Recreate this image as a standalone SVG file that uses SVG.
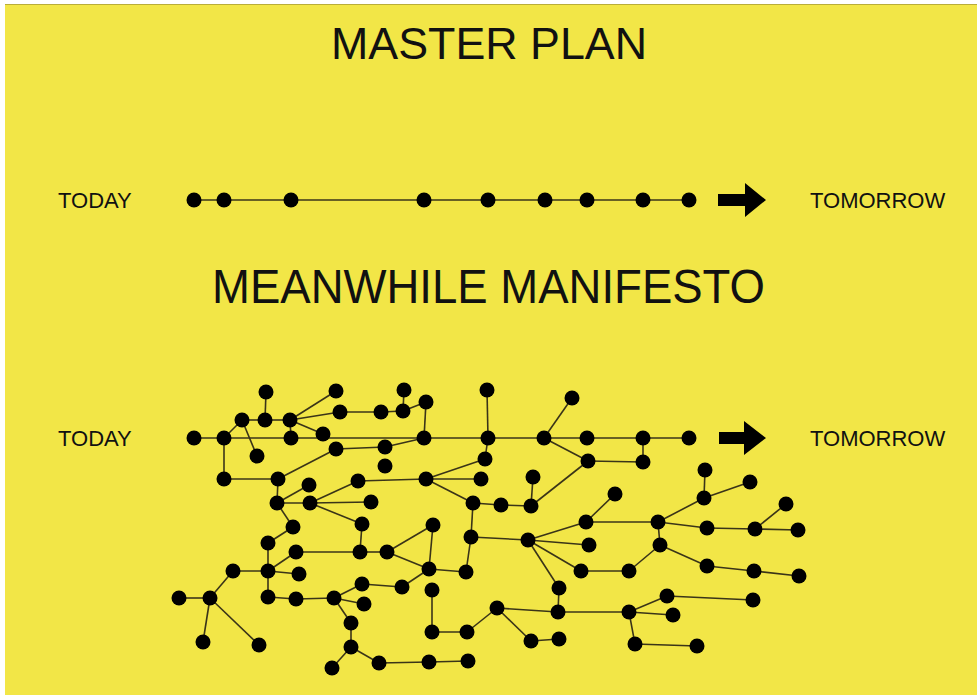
<svg xmlns="http://www.w3.org/2000/svg" width="977" height="695" viewBox="0 0 977 695">
<style>
.bg{fill:#F2E647}
.t{font-family:"Liberation Sans",Arial,sans-serif;fill:#111}
.lbl{font-size:22px}
.title{font-size:44px}
.e{stroke:#3a3418;stroke-width:1.6;fill:none}
.n circle{fill:#000}
.arr{fill:#000}
</style>
<defs>
<circle id="d" r="7.5"/>
</defs>
<rect x="0" y="0" width="977" height="695" fill="#ffffff"/>
<rect class="bg" x="5" y="4" width="972" height="691"/>
<line x1="5" y1="4.5" x2="977" y2="4.5" stroke="#b9ad3a" stroke-width="1"/>

<text class="t title" x="489" y="59" text-anchor="middle" textLength="316" lengthAdjust="spacingAndGlyphs">MASTER PLAN</text>
<text class="t title" x="488.5" y="303" text-anchor="middle" font-size="48" style="font-size:48px" textLength="553" lengthAdjust="spacingAndGlyphs">MEANWHILE MANIFESTO</text>

<text class="t lbl" x="58" y="208">TODAY</text>
<text class="t lbl" x="810" y="208">TOMORROW</text>
<text class="t lbl" x="58" y="446">TODAY</text>
<text class="t lbl" x="810" y="446">TOMORROW</text>

<g id="arrow-top"><polygon class="arr" points="718,194 745,194 745,183 766,200 745,217 745,206 718,206"/></g>
<g id="arrow-bottom"><polygon class="arr" points="719,432 744,432 744,421 766,438 744,455 744,444 719,444"/></g>

<g id="connectors">
<line class="e" x1="194" y1="200" x2="689" y2="200"/>
<line class="e" x1="194" y1="438" x2="689" y2="438"/>
<line class="e" x1="266" y1="392" x2="265" y2="420"/>
<line class="e" x1="242" y1="420" x2="265" y2="420"/>
<line class="e" x1="265" y1="420" x2="290" y2="420"/>
<line class="e" x1="290" y1="420" x2="336" y2="391"/>
<line class="e" x1="290" y1="420" x2="340" y2="412"/>
<line class="e" x1="340" y1="412" x2="381" y2="412"/>
<line class="e" x1="381" y1="412" x2="403" y2="411"/>
<line class="e" x1="403" y1="411" x2="404" y2="390"/>
<line class="e" x1="403" y1="411" x2="426" y2="402"/>
<line class="e" x1="426" y1="402" x2="424" y2="438"/>
<line class="e" x1="290" y1="420" x2="291" y2="438"/>
<line class="e" x1="290" y1="420" x2="323" y2="434"/>
<line class="e" x1="224" y1="438" x2="242" y2="420"/>
<line class="e" x1="242" y1="420" x2="257" y2="456"/>
<line class="e" x1="224" y1="438" x2="224" y2="479"/>
<line class="e" x1="224" y1="479" x2="278" y2="479"/>
<line class="e" x1="278" y1="479" x2="336" y2="449"/>
<line class="e" x1="336" y1="449" x2="385" y2="447"/>
<line class="e" x1="385" y1="447" x2="424" y2="438"/>
<line class="e" x1="278" y1="479" x2="277" y2="503"/>
<line class="e" x1="277" y1="503" x2="309" y2="485"/>
<line class="e" x1="277" y1="503" x2="310" y2="503"/>
<line class="e" x1="310" y1="503" x2="358" y2="481"/>
<line class="e" x1="358" y1="481" x2="426" y2="479"/>
<line class="e" x1="310" y1="503" x2="371" y2="502"/>
<line class="e" x1="310" y1="503" x2="362" y2="524"/>
<line class="e" x1="277" y1="503" x2="293" y2="527"/>
<line class="e" x1="293" y1="527" x2="268" y2="543"/>
<line class="e" x1="362" y1="524" x2="360" y2="552"/>
<line class="e" x1="487" y1="390" x2="488" y2="438"/>
<line class="e" x1="572" y1="398" x2="544" y2="438"/>
<line class="e" x1="488" y1="438" x2="485" y2="459"/>
<line class="e" x1="426" y1="479" x2="485" y2="459"/>
<line class="e" x1="426" y1="479" x2="481" y2="479"/>
<line class="e" x1="426" y1="479" x2="473" y2="503"/>
<line class="e" x1="473" y1="503" x2="501" y2="505"/>
<line class="e" x1="501" y1="505" x2="531" y2="506"/>
<line class="e" x1="531" y1="506" x2="533" y2="477"/>
<line class="e" x1="531" y1="506" x2="588" y2="461"/>
<line class="e" x1="544" y1="438" x2="588" y2="461"/>
<line class="e" x1="588" y1="461" x2="643" y2="462"/>
<line class="e" x1="643" y1="438" x2="643" y2="462"/>
<line class="e" x1="705" y1="470" x2="704" y2="498"/>
<line class="e" x1="704" y1="498" x2="750" y2="482"/>
<line class="e" x1="704" y1="498" x2="658" y2="522"/>
<line class="e" x1="615" y1="494" x2="586" y2="522"/>
<line class="e" x1="586" y1="522" x2="658" y2="522"/>
<line class="e" x1="658" y1="522" x2="707" y2="528"/>
<line class="e" x1="707" y1="528" x2="755" y2="529"/>
<line class="e" x1="755" y1="529" x2="798" y2="530"/>
<line class="e" x1="755" y1="529" x2="786" y2="504"/>
<line class="e" x1="658" y1="522" x2="660" y2="545"/>
<line class="e" x1="660" y1="545" x2="629" y2="571"/>
<line class="e" x1="660" y1="545" x2="707" y2="566"/>
<line class="e" x1="707" y1="566" x2="754" y2="571"/>
<line class="e" x1="754" y1="571" x2="799" y2="576"/>
<line class="e" x1="581" y1="571" x2="629" y2="571"/>
<line class="e" x1="558" y1="612" x2="629" y2="612"/>
<line class="e" x1="629" y1="612" x2="667" y2="596"/>
<line class="e" x1="667" y1="596" x2="753" y2="600"/>
<line class="e" x1="629" y1="612" x2="673" y2="615"/>
<line class="e" x1="629" y1="612" x2="635" y2="644"/>
<line class="e" x1="635" y1="644" x2="697" y2="646"/>
<line class="e" x1="473" y1="503" x2="471" y2="537"/>
<line class="e" x1="471" y1="537" x2="528" y2="540"/>
<line class="e" x1="528" y1="540" x2="586" y2="522"/>
<line class="e" x1="528" y1="540" x2="589" y2="545"/>
<line class="e" x1="528" y1="540" x2="581" y2="571"/>
<line class="e" x1="528" y1="540" x2="559" y2="588"/>
<line class="e" x1="559" y1="588" x2="558" y2="612"/>
<line class="e" x1="497" y1="608" x2="558" y2="612"/>
<line class="e" x1="497" y1="608" x2="467" y2="632"/>
<line class="e" x1="467" y1="632" x2="432" y2="632"/>
<line class="e" x1="432" y1="632" x2="432" y2="590"/>
<line class="e" x1="497" y1="608" x2="531" y2="641"/>
<line class="e" x1="531" y1="641" x2="559" y2="639"/>
<line class="e" x1="471" y1="537" x2="466" y2="572"/>
<line class="e" x1="466" y1="572" x2="429" y2="569"/>
<line class="e" x1="429" y1="569" x2="433" y2="525"/>
<line class="e" x1="433" y1="525" x2="387" y2="552"/>
<line class="e" x1="387" y1="552" x2="429" y2="569"/>
<line class="e" x1="360" y1="552" x2="387" y2="552"/>
<line class="e" x1="296" y1="552" x2="360" y2="552"/>
<line class="e" x1="429" y1="569" x2="402" y2="587"/>
<line class="e" x1="402" y1="587" x2="362" y2="584"/>
<line class="e" x1="362" y1="584" x2="334" y2="598"/>
<line class="e" x1="334" y1="598" x2="364" y2="604"/>
<line class="e" x1="334" y1="598" x2="351" y2="623"/>
<line class="e" x1="351" y1="623" x2="351" y2="647"/>
<line class="e" x1="351" y1="647" x2="332" y2="668"/>
<line class="e" x1="351" y1="647" x2="379" y2="663"/>
<line class="e" x1="379" y1="663" x2="429" y2="662"/>
<line class="e" x1="429" y1="662" x2="468" y2="661"/>
<line class="e" x1="296" y1="599" x2="334" y2="598"/>
<line class="e" x1="268" y1="597" x2="296" y2="599"/>
<line class="e" x1="268" y1="571" x2="268" y2="597"/>
<line class="e" x1="268" y1="543" x2="268" y2="571"/>
<line class="e" x1="268" y1="571" x2="296" y2="552"/>
<line class="e" x1="268" y1="571" x2="299" y2="574"/>
<line class="e" x1="233" y1="571" x2="268" y2="571"/>
<line class="e" x1="233" y1="571" x2="210" y2="598"/>
<line class="e" x1="179" y1="598" x2="210" y2="598"/>
<line class="e" x1="210" y1="598" x2="203" y2="642"/>
<line class="e" x1="210" y1="598" x2="259" y2="645"/>
</g>

<g id="master-plan" class="n">
<g id="m1"><use href="#d" x="194" y="200"/></g>
<g id="m2"><use href="#d" x="224" y="200"/></g>
<g id="m3"><use href="#d" x="291" y="200"/></g>
<g id="m4"><use href="#d" x="424" y="200"/></g>
<g id="m5"><use href="#d" x="488" y="200"/></g>
<g id="m6"><use href="#d" x="545" y="200"/></g>
<g id="m7"><use href="#d" x="587" y="200"/></g>
<g id="m8"><use href="#d" x="643" y="200"/></g>
<g id="m9"><use href="#d" x="689" y="200"/></g>
</g>

<g id="meanwhile" class="n">
<g id="n1"><use href="#d" x="194" y="438"/></g>
<g id="n2"><use href="#d" x="224" y="438"/></g>
<g id="n3"><use href="#d" x="291" y="438"/></g>
<g id="n4"><use href="#d" x="424" y="438"/></g>
<g id="n5"><use href="#d" x="488" y="438"/></g>
<g id="n6"><use href="#d" x="544" y="438"/></g>
<g id="n7"><use href="#d" x="587" y="438"/></g>
<g id="n8"><use href="#d" x="643" y="438"/></g>
<g id="n9"><use href="#d" x="689" y="438"/></g>
<g id="n10"><use href="#d" x="266" y="392"/></g>
<g id="n11"><use href="#d" x="242" y="420"/></g>
<g id="n12"><use href="#d" x="265" y="420"/></g>
<g id="n13"><use href="#d" x="290" y="420"/></g>
<g id="n14"><use href="#d" x="336" y="391"/></g>
<g id="n15"><use href="#d" x="340" y="412"/></g>
<g id="n16"><use href="#d" x="381" y="412"/></g>
<g id="n17"><use href="#d" x="323" y="434"/></g>
<g id="n18"><use href="#d" x="257" y="456"/></g>
<g id="n19"><use href="#d" x="336" y="449"/></g>
<g id="n20"><use href="#d" x="385" y="447"/></g>
<g id="n21"><use href="#d" x="385" y="466"/></g>
<g id="n22"><use href="#d" x="224" y="479"/></g>
<g id="n23"><use href="#d" x="278" y="479"/></g>
<g id="n24"><use href="#d" x="309" y="485"/></g>
<g id="n25"><use href="#d" x="358" y="481"/></g>
<g id="n26"><use href="#d" x="277" y="503"/></g>
<g id="n27"><use href="#d" x="310" y="503"/></g>
<g id="n28"><use href="#d" x="371" y="502"/></g>
<g id="n29"><use href="#d" x="362" y="524"/></g>
<g id="n30"><use href="#d" x="293" y="527"/></g>
<g id="n31"><use href="#d" x="404" y="390"/></g>
<g id="n32"><use href="#d" x="403" y="411"/></g>
<g id="n33"><use href="#d" x="426" y="402"/></g>
<g id="n34"><use href="#d" x="487" y="390"/></g>
<g id="n35"><use href="#d" x="572" y="398"/></g>
<g id="n36"><use href="#d" x="485" y="459"/></g>
<g id="n37"><use href="#d" x="588" y="461"/></g>
<g id="n38"><use href="#d" x="643" y="462"/></g>
<g id="n39"><use href="#d" x="426" y="479"/></g>
<g id="n40"><use href="#d" x="481" y="479"/></g>
<g id="n41"><use href="#d" x="533" y="477"/></g>
<g id="n42"><use href="#d" x="473" y="503"/></g>
<g id="n43"><use href="#d" x="501" y="505"/></g>
<g id="n44"><use href="#d" x="531" y="506"/></g>
<g id="n45"><use href="#d" x="705" y="470"/></g>
<g id="n46"><use href="#d" x="750" y="482"/></g>
<g id="n47"><use href="#d" x="615" y="494"/></g>
<g id="n48"><use href="#d" x="704" y="498"/></g>
<g id="n49"><use href="#d" x="786" y="504"/></g>
<g id="n50"><use href="#d" x="586" y="522"/></g>
<g id="n51"><use href="#d" x="658" y="522"/></g>
<g id="n52"><use href="#d" x="707" y="528"/></g>
<g id="n53"><use href="#d" x="755" y="529"/></g>
<g id="n54"><use href="#d" x="798" y="530"/></g>
<g id="n55"><use href="#d" x="433" y="525"/></g>
<g id="n56"><use href="#d" x="471" y="537"/></g>
<g id="n57"><use href="#d" x="528" y="540"/></g>
<g id="n58"><use href="#d" x="387" y="552"/></g>
<g id="n59"><use href="#d" x="429" y="569"/></g>
<g id="n60"><use href="#d" x="466" y="572"/></g>
<g id="n61"><use href="#d" x="589" y="545"/></g>
<g id="n62"><use href="#d" x="581" y="571"/></g>
<g id="n63"><use href="#d" x="402" y="587"/></g>
<g id="n64"><use href="#d" x="432" y="590"/></g>
<g id="n65"><use href="#d" x="559" y="588"/></g>
<g id="n66"><use href="#d" x="497" y="608"/></g>
<g id="n67"><use href="#d" x="558" y="612"/></g>
<g id="n68"><use href="#d" x="432" y="632"/></g>
<g id="n69"><use href="#d" x="467" y="632"/></g>
<g id="n70"><use href="#d" x="531" y="641"/></g>
<g id="n71"><use href="#d" x="559" y="639"/></g>
<g id="n72"><use href="#d" x="379" y="663"/></g>
<g id="n73"><use href="#d" x="429" y="662"/></g>
<g id="n74"><use href="#d" x="468" y="661"/></g>
<g id="n75"><use href="#d" x="268" y="543"/></g>
<g id="n76"><use href="#d" x="296" y="552"/></g>
<g id="n77"><use href="#d" x="360" y="552"/></g>
<g id="n79"><use href="#d" x="233" y="571"/></g>
<g id="n80"><use href="#d" x="268" y="571"/></g>
<g id="n81"><use href="#d" x="299" y="574"/></g>
<g id="n82"><use href="#d" x="179" y="598"/></g>
<g id="n83"><use href="#d" x="210" y="598"/></g>
<g id="n84"><use href="#d" x="268" y="597"/></g>
<g id="n85"><use href="#d" x="296" y="599"/></g>
<g id="n86"><use href="#d" x="334" y="598"/></g>
<g id="n87"><use href="#d" x="362" y="584"/></g>
<g id="n88"><use href="#d" x="364" y="604"/></g>
<g id="n89"><use href="#d" x="203" y="642"/></g>
<g id="n90"><use href="#d" x="259" y="645"/></g>
<g id="n91"><use href="#d" x="351" y="623"/></g>
<g id="n92"><use href="#d" x="351" y="647"/></g>
<g id="n93"><use href="#d" x="332" y="668"/></g>
<g id="n94"><use href="#d" x="660" y="545"/></g>
<g id="n95"><use href="#d" x="629" y="571"/></g>
<g id="n96"><use href="#d" x="707" y="566"/></g>
<g id="n97"><use href="#d" x="754" y="571"/></g>
<g id="n98"><use href="#d" x="799" y="576"/></g>
<g id="n99"><use href="#d" x="667" y="596"/></g>
<g id="n100"><use href="#d" x="753" y="600"/></g>
<g id="n101"><use href="#d" x="629" y="612"/></g>
<g id="n102"><use href="#d" x="673" y="615"/></g>
<g id="n103"><use href="#d" x="635" y="644"/></g>
<g id="n104"><use href="#d" x="697" y="646"/></g>
</g>
</svg>
